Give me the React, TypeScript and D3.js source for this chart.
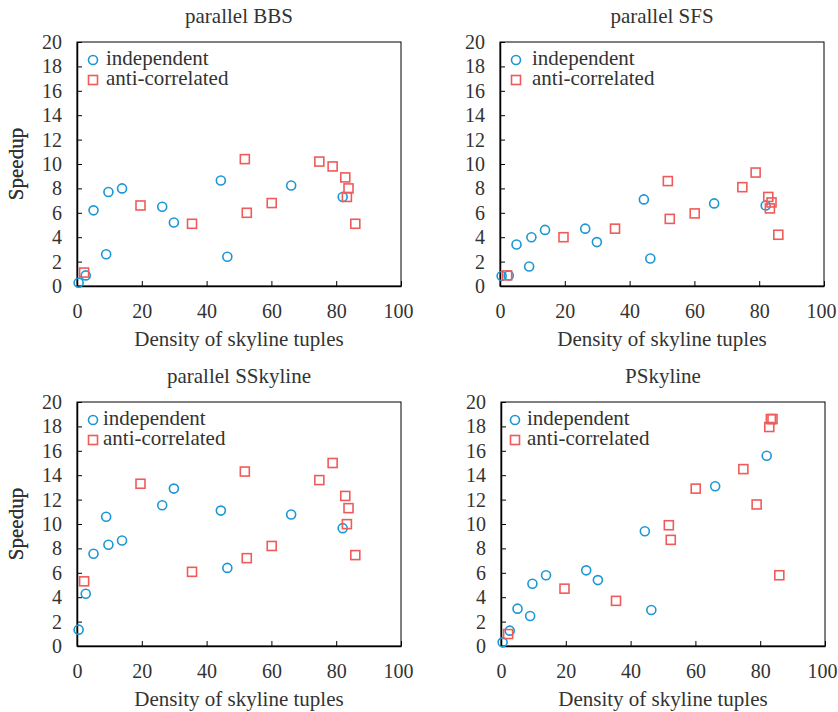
import React, { useEffect, useRef } from 'react';
import * as d3 from 'd3';

// density of skyline tuples (x) for each dataset, shared by every panel
const indepDensity = [0.5, 2.7, 5.1, 9.0, 9.7, 13.9, 26.3, 29.9, 44.4, 46.4, 66.1, 82.0];
const antiDensity = [2.2, 19.6, 35.5, 51.8, 52.4, 60.1, 74.8, 78.9, 82.8, 83.8, 83.3, 85.9];

const titles = ['parallel BBS', 'parallel SFS', 'parallel SSkyline', 'PSkyline'];

// speedup values per panel
const bbsIndep = [0.27, 0.87, 6.2, 2.6, 7.7, 8.0, 6.5, 5.2, 8.65, 2.4, 8.24, 7.3];
const bbsAnti = [1.1, 6.6, 5.1, 10.4, 6.0, 6.8, 10.2, 9.8, 8.9, 8.0, 7.3, 5.1];
const sfsIndep = [0.82, 0.87, 3.4, 1.6, 4.0, 4.6, 4.7, 3.6, 7.1, 2.26, 6.77, 6.6];
const sfsAnti = [0.87, 4.0, 4.7, 8.6, 5.5, 5.95, 8.1, 9.3, 7.3, 6.85, 6.36, 4.2];
const sskyIndep = [1.34, 4.28, 7.56, 10.6, 8.3, 8.65, 11.54, 12.9, 11.1, 6.4, 10.78, 9.66];
const sskyAnti = [5.3, 13.3, 6.08, 14.3, 7.2, 8.2, 13.6, 15.0, 12.3, 11.3, 9.99, 7.45];
const pskyIndep = [0.3, 1.26, 3.06, 2.46, 5.1, 5.8, 6.2, 5.4, 9.4, 2.95, 13.1, 15.6];
const pskyAnti = [0.98, 4.7, 3.7, 9.9, 8.7, 12.9, 14.5, 11.6, 17.95, 18.6, 18.6, 5.8];

const xTicks = [0, 20, 40, 60, 80, 100];
const yTicks = [0, 2, 4, 6, 8, 10, 12, 14, 16, 18, 20];

const panels = [
  { title: titles[0], indep: bbsIndep, anti: bbsAnti, left: 77, top: 42, lx: 16, gap: 13 },
  { title: titles[1], indep: sfsIndep, anti: sfsAnti, left: 500, top: 42, lx: 16, gap: 16 },
  { title: titles[2], indep: sskyIndep, anti: sskyAnti, left: 77, top: 402, lx: 16, gap: 10 },
  { title: titles[3], indep: pskyIndep, anti: pskyAnti, left: 501, top: 402, lx: 14, gap: 12 },
];

const BLUE = '#1b97d4';
const RED = '#ef5b5b';
const TEXT = '#333';
const FONT = '"Liberation Serif", "Times New Roman", Times, serif';
const FS = '21px';
const TICK_FS = '20px';

const App = () => {
  const svgRef = useRef<SVGSVGElement>(null);

  useEffect(() => {
    const svg = d3.select(svgRef.current);
    svg.selectAll('*').remove();

    const w = 324;
    const h = 244;

    panels.forEach(p => {
      const g = svg.append('g').attr('transform', `translate(${p.left},${p.top})`);

      const x = d3.scaleLinear().domain([0, 100]).range([0, w]);
      const y = d3.scaleLinear().domain([0, 20]).range([h, 0]);

      // frame
      g.append('rect')
        .attr('width', w)
        .attr('height', h)
        .attr('fill', 'none')
        .attr('stroke', '#000')
        .attr('stroke-width', 1);

      // axes with inward ticks
      const xAxis = g.append('g')
        .attr('transform', `translate(0,${h})`)
        .call(d3.axisBottom(x).tickValues(xTicks).tickSizeInner(-5).tickSizeOuter(0).tickPadding(18));
      xAxis.select('.domain').attr('stroke', '#000').attr('stroke-width', 1.5);
      xAxis.selectAll('text')
        .style('font-family', FONT)
        .style('font-size', TICK_FS)
        .attr('fill', TEXT)
        .attr('dx', (d: any) => (d === 100 ? -3 : 0));

      const yAxis = g.append('g')
        .call(d3.axisLeft(y).tickValues(yTicks).tickSizeInner(-5).tickSizeOuter(0).tickPadding(15));
      yAxis.select('.domain').attr('stroke', '#000').attr('stroke-width', 1.5);
      yAxis.selectAll('text')
        .style('font-family', FONT)
        .style('font-size', TICK_FS)
        .attr('fill', TEXT);

      // titles
      g.append('text')
        .attr('x', w / 2)
        .attr('y', -19)
        .attr('text-anchor', 'middle')
        .style('font-family', FONT)
        .style('font-size', FS)
        .attr('fill', TEXT)
        .text(p.title);

      g.append('text')
        .attr('x', w / 2)
        .attr('y', h + 60)
        .attr('text-anchor', 'middle')
        .style('font-family', FONT)
        .style('font-size', FS)
        .attr('fill', TEXT)
        .text('Density of skyline tuples');

      g.append('text')
        .attr('transform', 'rotate(-90)')
        .attr('x', -h / 2)
        .attr('y', -p.left + 23)
        .attr('text-anchor', 'middle')
        .style('font-family', FONT)
        .style('font-size', FS)
        .attr('fill', TEXT)
        .text('Speedup');

      // points
      g.selectAll('.indep')
        .data(p.indep)
        .enter()
        .append('circle')
        .attr('cx', (d, i) => x(indepDensity[i]))
        .attr('cy', d => y(d))
        .attr('r', 4.5)
        .attr('fill', 'none')
        .attr('stroke', BLUE)
        .attr('stroke-width', 1.6);

      g.selectAll('.anti')
        .data(p.anti)
        .enter()
        .append('rect')
        .attr('x', (d, i) => x(antiDensity[i]) - 4.5)
        .attr('y', d => y(d) - 4.5)
        .attr('width', 9)
        .attr('height', 9)
        .attr('fill', 'none')
        .attr('stroke', RED)
        .attr('stroke-width', 1.6);

      // legend
      const legend = g.append('g').attr('transform', `translate(${p.lx},18)`);
      legend.append('circle')
        .attr('cx', 0)
        .attr('cy', 0)
        .attr('r', 4.5)
        .attr('fill', 'none')
        .attr('stroke', BLUE)
        .attr('stroke-width', 1.6);
      legend.append('text')
        .attr('x', p.gap)
        .attr('y', 0)
        .attr('dy', '0.22em')
        .style('font-family', FONT)
        .style('font-size', FS)
        .attr('fill', TEXT)
        .text('independent');
      legend.append('rect')
        .attr('x', -4.5)
        .attr('y', 15.5)
        .attr('width', 9)
        .attr('height', 9)
        .attr('fill', 'none')
        .attr('stroke', RED)
        .attr('stroke-width', 1.6);
      legend.append('text')
        .attr('x', p.gap)
        .attr('y', 20)
        .attr('dy', '0.22em')
        .style('font-family', FONT)
        .style('font-size', FS)
        .attr('fill', TEXT)
        .text('anti-correlated');
    });
  }, []);

  return (
    <svg
      ref={svgRef}
      width={838}
      height={712}
      style={{ position: 'absolute', left: 0, top: 0, background: '#fff' }}
    />
  );
};

export default App;
